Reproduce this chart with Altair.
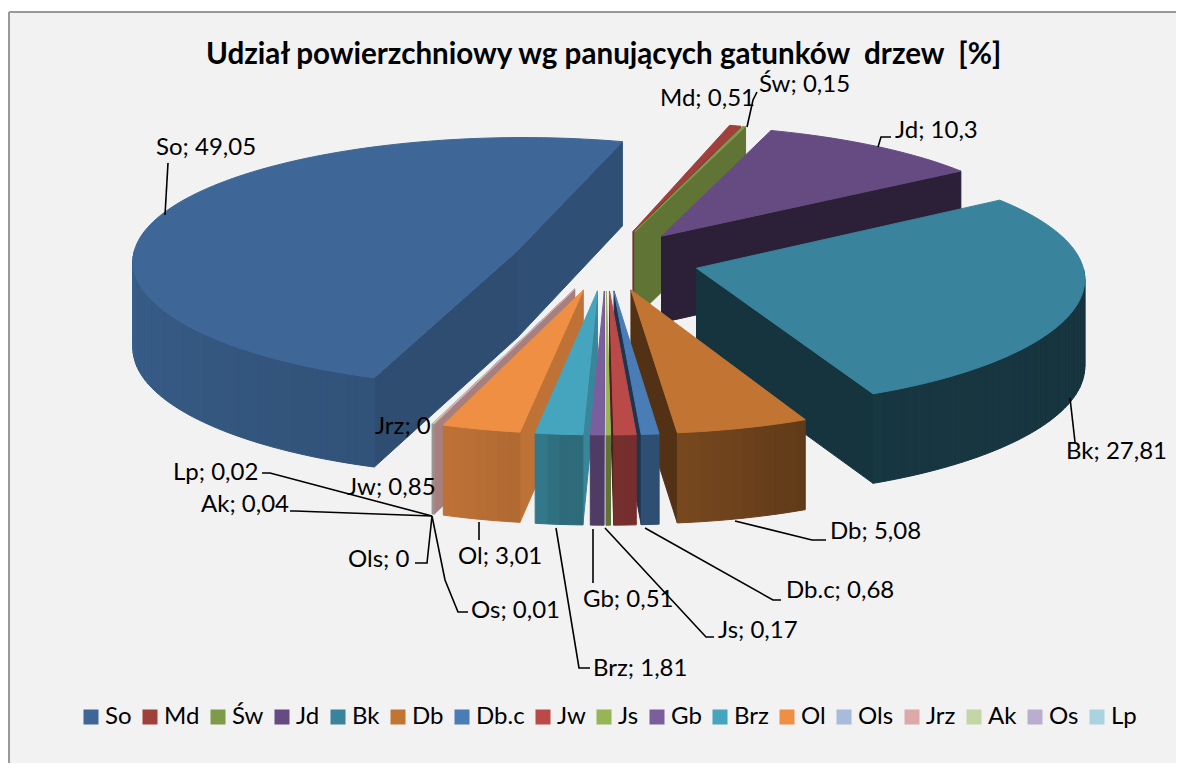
import math
import altair as alt

names = ["So", "Md", "Św", "Jd", "Bk", "Db", "Db.c", "Jw", "Js", "Gb", "Brz", "Ol", "Ols", "Jrz", "Ak", "Os", "Lp"]
values = [49.05, 0.51, 0.15, 10.3, 27.81, 5.08, 0.68, 0.85, 0.17, 0.51, 1.81, 3.01, 0, 0, 0.04, 0.01, 0.02]
value_text = ["49,05", "0,51", "0,15", "10,3", "27,81", "5,08", "0,68", "0,85", "0,17", "0,51", "1,81", "3,01", "0", "0", "0,04", "0,01", "0,02"]
colors = ["#3E6797", "#A0403D", "#7F9A48", "#664B82", "#39839C", "#C27532", "#4A7CB5", "#B94A48", "#97B555",
          "#7B5E9C", "#46A5BE", "#EE8F44", "#A8BBDB", "#DDA9A8", "#C4D6A6", "#BBADCF", "#A9D3E0"]

W, H = 1168, 755
OFF = 8
CX, CY, A, B, DEPTH, KX, KY, EXPLODE, START = 606, 260, 385, 125, 87, 0.07, 0.09, 0.243, 199.5
paint_order = ["Md", "Św", "Jd", "So", "Bk", "Lp", "Os", "Ak", "Ols", "Jrz", "Ol", "Brz", "Gb", "Db", "Db.c", "Jw", "Js"]

label_pos = {"So": (156, 148), "Md": (660, 99), "Św": (759, 85), "Jd": (895, 131), "Bk": (1066, 452),
             "Db": (830, 532), "Db.c": (786, 591), "Jw": (347, 488), "Js": (718, 631), "Gb": (583, 600),
             "Brz": (593, 669), "Ol": (458, 557), "Ols": (348, 560), "Jrz": (375, 427), "Ak": (201, 505),
             "Os": (471, 611), "Lp": (173, 473)}
leaders = [
    [(165, 215), (168, 163)],
    [(747, 127), (753, 100), (757, 92)],
    [(878, 147), (881, 137), (891, 137)],
    [(1070, 398), (1075, 442)],
    [(735, 521), (812, 540), (826, 540)],
    [(645, 528), (773, 600), (781, 600)],
    [(605, 528), (706, 637), (714, 637)],
    [(593, 529), (593, 583)],
    [(556, 528), (579, 668), (590, 668)],
    [(479, 522), (479, 540)],
    [(432, 516), (445, 580), (458, 612), (468, 612)],
    [(432, 516), (427, 563), (415, 563)],
    [(432, 516), (295, 511), (290, 511)],
    [(432, 516), (270, 473), (262, 473)],
]


def interp(x, table):
    if x <= table[0][0]:
        return table[0][1]
    for (a, fa), (b, fb) in zip(table, table[1:]):
        if x <= b:
            return fa + (fb - fa) * (x - a) / (b - a)
    return table[-1][1]


WALL = [(90, .82), (100, .8), (110, .75), (145, .43), (245, .40), (270, .43)]
OUTER = [(90, .40), (155, .42), (156, .50), (175, .63), (185, .65), (188, .74), (199, .80), (270, .92)]


def shade(col, f):
    r, g, b = [int(col[i:i + 2], 16) for i in (1, 3, 5)]
    return "#%02x%02x%02x" % (int(r * f), int(g * f), int(b * f))


def project(x, y, bottom=False):
    fx = 1 / (1 - KX * y)
    fy = 1 / (1 - KY * y)
    drop = DEPTH * (1 + 0.03 * y) if bottom else 0
    return [CX + A * x * fx - OFF, CY + B * y * fy + drop - OFF]


def poly(pts, fill):
    ring = pts + [pts[0]]
    return {"type": "Feature", "geometry": {"type": "Polygon", "coordinates": [ring]},
            "properties": {"fill": fill}}


def line(pts):
    return {"type": "Feature", "geometry": {"type": "LineString", "coordinates": [[x - OFF, y - OFF] for x, y in pts]},
            "properties": {"fill": "none"}}


def wedge(t1, t2, col):
    mid = math.radians((t1 + t2) / 2)
    tx, ty = EXPLODE * math.sin(mid), -EXPLODE * math.cos(mid)
    steps = max(1, int((t2 - t1) / 1.5))
    ang = [t1 + (t2 - t1) * i / steps for i in range(steps + 1)]
    rim = [(tx + math.sin(math.radians(t)), ty - math.cos(math.radians(t))) for t in ang]
    out = []
    if math.sin(math.radians(t1)) < 0:
        p = rim[0]
        out.append(poly([project(tx, ty), project(*p), project(*p, True), project(tx, ty, True)],
                        shade(col, interp((t1 - 90) % 360, WALL))))
    if math.sin(math.radians(t2)) > 0:
        p = rim[-1]
        out.append(poly([project(tx, ty), project(*p), project(*p, True), project(tx, ty, True)],
                        shade(col, interp((t2 + 90) % 360, WALL))))
    for i in range(steps):
        tm = ((ang[i] + ang[i + 1]) / 2) % 360
        if 90 < tm < 270:
            p, q = rim[i], rim[i + 1]
            out.append(poly([project(*p), project(*q), project(*q, True), project(*p, True)],
                            shade(col, interp(tm, OUTER))))
    out.append(poly([project(tx, ty)] + [project(*p) for p in rim], col))
    return out


spans = {}
t = START
for n, v in zip(names, values):
    spans[n] = (t, t + v * 3.6)
    t += v * 3.6

features = [poly([[1, 4], [W + 20, 4], [W + 20, H + 20], [1, H + 20]], "#F2F2F2")]
for n in paint_order:
    i = names.index(n)
    features += wedge(spans[n][0], spans[n][1], colors[i])

proj = alt.Projection(type="identity", scale=1, translate=[0, 0])

shapes = alt.Chart(alt.Data(values=features)).mark_geoshape(strokeWidth=1).encode(
    fill=alt.Fill("properties.fill:N", scale=None),
    stroke=alt.Stroke("properties.fill:N", scale=None),
).project(**proj.to_dict())

frame_line = alt.Chart(alt.Data(values=[line([(9, 12), (9, 790)]), line([(9, 12), (1200, 12)])])).mark_geoshape(
    filled=False, stroke="#999999", strokeWidth=2).project(**proj.to_dict())

leader_layer = alt.Chart(alt.Data(values=[line(p) for p in leaders])).mark_geoshape(
    filled=False, stroke="#000000", strokeWidth=1.6).project(**proj.to_dict())

labels = alt.Chart(alt.Data(values=[
    {"t": f"{n}; {s}", "x": label_pos[n][0] - OFF, "y": label_pos[n][1] - OFF} for n, s in zip(names, value_text)
])).mark_text(align="left", baseline="middle", font="Lato", fontSize=24, color="#000000").encode(
    x=alt.X("x:Q", scale=None), y=alt.Y("y:Q", scale=None), text="t:N")

title = alt.Chart(alt.Data(values=[{"t": "Udział powierzchniowy wg panujących gatunków\u00a0 drzew\u00a0 [%]",
                                    "x": 206 - OFF, "y": 55 - OFF}])).mark_text(
    align="left", baseline="middle", font="Lato", fontSize=29.6, fontWeight="bold", color="#000000").encode(
    x=alt.X("x:Q", scale=None), y=alt.Y("y:Q", scale=None), text="t:N")

legend_layer = alt.Chart(alt.Data(values=[{"n": n} for n in names])).mark_square(size=0).encode(
    x=alt.value(0), y=alt.value(0),
    color=alt.Color("n:N", scale=alt.Scale(domain=names, range=colors), sort=names, legend=alt.Legend(
        title=None, orient="none", legendX=71, legendY=697, direction="horizontal", columns=17,
        symbolType="square", symbolSize=225, symbolStrokeWidth=0, labelFont="Lato", labelFontSize=24,
        labelColor="#000000", columnPadding=6, labelOffset=2, symbolOpacity=1)),
)

chart = alt.layer(shapes, frame_line, leader_layer, labels, title, legend_layer).properties(
    width=W, height=H, padding=0, background="#FFFFFF", autosize=alt.AutoSizeParams(type="none")
).configure_view(stroke=None)

chart.save("out.html", embed_options={"renderer": "svg", "actions": False})
